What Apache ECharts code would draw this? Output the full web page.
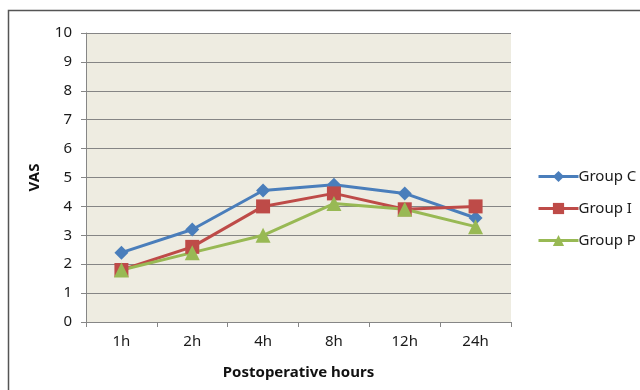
<!DOCTYPE html>
<html>
<head>
<meta charset="utf-8">
<script src="https://cdn.jsdelivr.net/npm/echarts@6/dist/echarts.min.js"></script>
<style>
html,body{margin:0;padding:0;background:#fff;}
#chart{width:640px;height:390px;}
</style>
</head>
<body>
<div id="chart"></div>
<script>
const categories = ['1h', '2h', '4h', '8h', '12h', '24h'];
const groupC = [2.4, 3.2, 4.55, 4.75, 4.45, 3.6];
const groupI = [1.8, 2.6, 4.0, 4.45, 3.9, 4.0];
const groupP = [1.8, 2.4, 3.0, 4.1, 3.9, 3.3];
const seriesNames = ['Group C', 'Group I', 'Group P'];

const FONT = '"Noto Sans", "Open Sans", sans-serif';
const chart = echarts.init(document.getElementById('chart'), null, {renderer: 'canvas'});

function mk(name, data, color, symbol, size) {
  return {
    name: name, type: 'line', data: data,
    symbol: symbol, symbolSize: size,
    lineStyle: {color: color, width: 3},
    itemStyle: {color: color},
    emphasis: {disabled: true},
    animation: false
  };
}

chart.setOption({
  animation: false,
  textStyle: {fontFamily: FONT},
  graphic: [{
    type: 'rect', shape: {x: 8.5, y: 10.5, width: 700, height: 500},
    style: {fill: 'none', stroke: '#555', lineWidth: 1.5}, z: 100, silent: true
  }],
  grid: {
    left: 86, right: 129, top: 33, bottom: 68,
    show: true, backgroundColor: '#EEECE1', borderWidth: 0
  },
  legend: {
    orient: 'vertical', left: 537, top: 169, padding: 0,
    itemWidth: 40, itemHeight: 14, itemGap: 17,
    data: seriesNames,
    itemStyle: {},
    lineStyle: {width: 3},
    textStyle: {fontSize: 15, color: '#1a1a1a', fontFamily: FONT, padding: [0,0,0,-5]}
  },
  xAxis: {
    type: 'category', data: categories, boundaryGap: true,
    name: 'Postoperative hours', nameLocation: 'middle', nameGap: 43,
    nameTextStyle: {fontSize: 15, fontWeight: 'bold', color: '#111', fontFamily: FONT},
    axisLine: {lineStyle: {color: '#868686', width: 1}},
    axisTick: {show: true, length: 5, interval: 0, lineStyle: {color: '#868686'}},
    axisLabel: {fontSize: 15, color: '#1a1a1a', margin: 12, fontFamily: FONT}
  },
  yAxis: {
    type: 'value', min: 0, max: 10, interval: 1,
    name: 'VAS', nameLocation: 'middle', nameGap: 44, nameRotate: 90,
    nameTextStyle: {fontSize: 15, fontWeight: 'bold', color: '#111', fontFamily: FONT},
    axisLine: {show: true, lineStyle: {color: '#868686', width: 1}},
    axisTick: {show: true, length: 5, lineStyle: {color: '#868686'}},
    axisLabel: {fontSize: 15, color: '#1a1a1a', margin: 14, fontFamily: FONT},
    splitLine: {show: true, lineStyle: {color: '#858585', width: 1}}
  },
  series: [
    mk(seriesNames[0], groupC, '#4A7EBB', 'diamond', 14),
    mk(seriesNames[1], groupI, '#BE4B48', 'rect', 14),
    mk(seriesNames[2], groupP, '#98B954', 'triangle', 15)
  ]
});
</script>
</body>
</html>
